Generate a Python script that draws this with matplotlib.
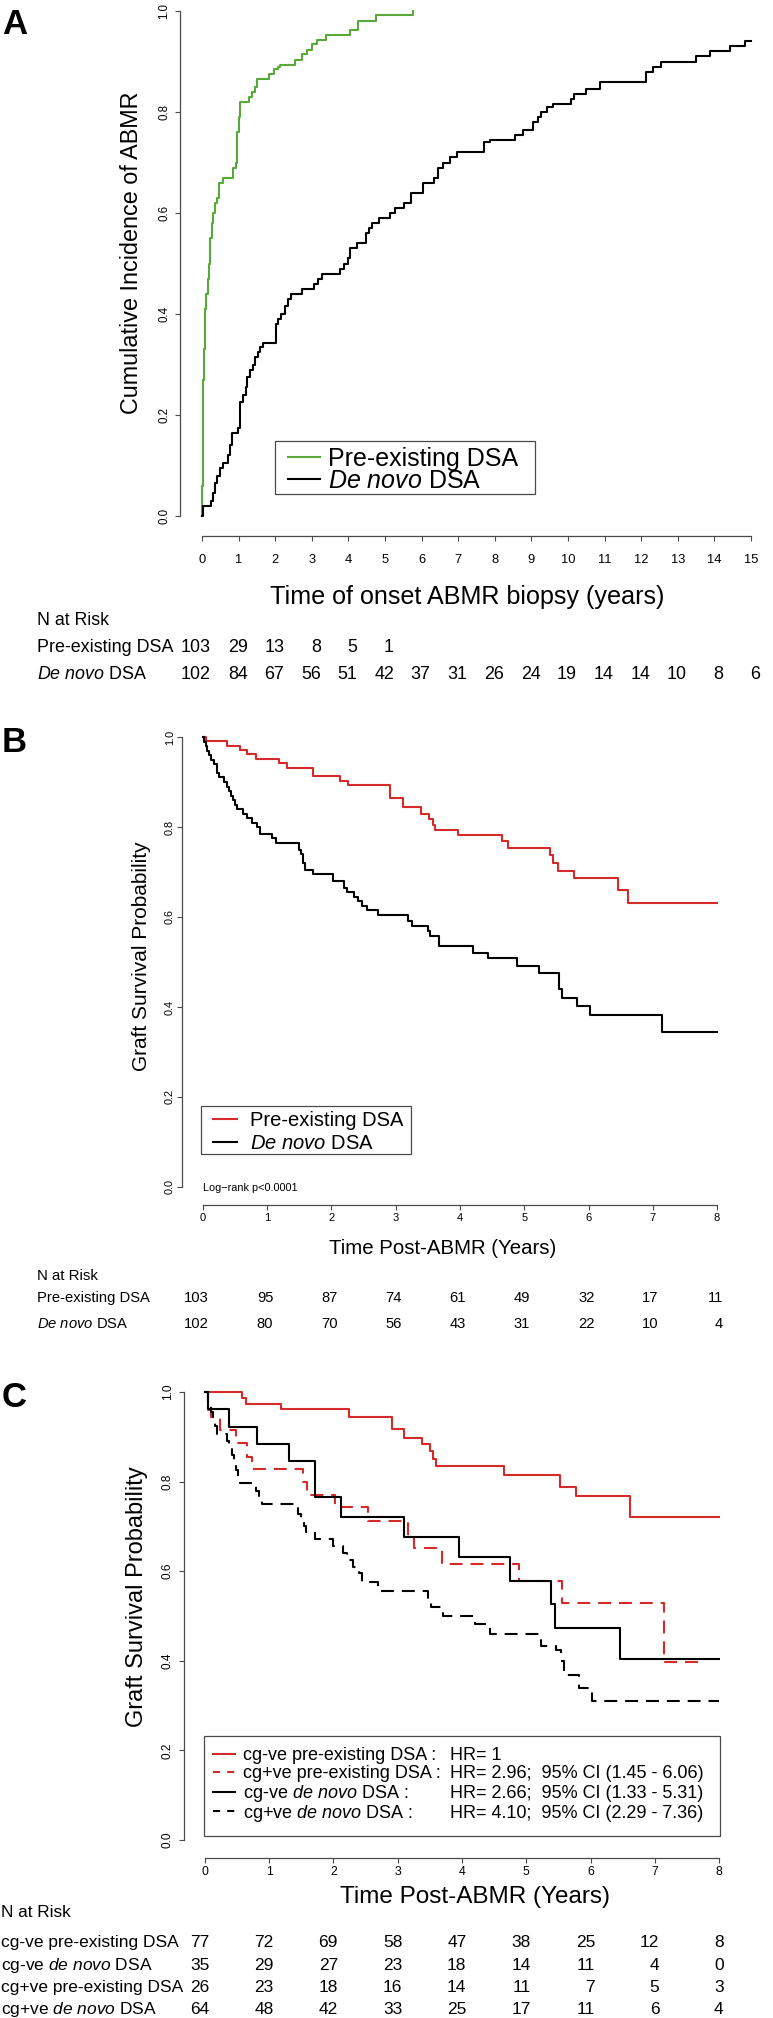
import numpy as np
import matplotlib
matplotlib.use("Agg")
import matplotlib.pyplot as plt
from matplotlib import transforms
from matplotlib.lines import Line2D
from matplotlib.patches import Rectangle

W, H = 773, 2018

# ---------------- data ----------------
# Panel A: cumulative incidence of ABMR
A_PRE_T = [0.0, 0.01, 0.02, 0.03, 0.04, 0.05, 0.07, 0.09, 0.12, 0.16, 0.19, 0.22, 0.27,
           0.31, 0.35, 0.40, 0.47, 0.57, 0.85, 0.92, 0.97, 1.00, 1.03, 1.28, 1.38, 1.45,
           1.51, 1.82, 1.96, 2.07, 2.14, 2.54, 2.73, 2.86, 3.01, 3.14, 3.38, 4.05, 4.26,
           4.76, 5.77]
A_PRE_V = [0.0, 0.06, 0.13, 0.20, 0.27, 0.33, 0.38, 0.41, 0.44, 0.47, 0.50, 0.55, 0.58,
           0.60, 0.62, 0.63, 0.66, 0.67, 0.69, 0.70, 0.76, 0.79, 0.82, 0.83, 0.84, 0.85,
           0.865, 0.875, 0.885, 0.89, 0.894, 0.903, 0.914, 0.923, 0.934, 0.942, 0.953,
           0.962, 0.981, 0.992, 1.0]
A_DN_T = [0, 0.04, 0.24, 0.30, 0.36, 0.42, 0.50, 0.57, 0.70, 0.77, 0.81, 0.99, 1.05, 1.12,
          1.19, 1.24, 1.32, 1.39, 1.46, 1.53, 1.59, 1.66, 2.03, 2.09, 2.16, 2.27, 2.34,
          2.43, 2.73, 3.07, 3.18, 3.27, 3.78, 3.88, 3.99, 4.05, 4.24, 4.49, 4.55, 4.64,
          4.84, 5.14, 5.27, 5.51, 5.72, 6.05, 6.35, 6.46, 6.59, 6.78, 6.96, 7.70, 7.86,
          8.55, 8.76, 9.05, 9.19, 9.26, 9.42, 9.59, 10.07, 10.16, 10.50, 10.88, 12.12,
          12.32, 12.53, 13.49, 13.89, 14.43, 14.84]
A_DN_V = [0, 0.019, 0.03, 0.045, 0.065, 0.08, 0.095, 0.105, 0.12, 0.14, 0.165, 0.175,
          0.225, 0.24, 0.255, 0.275, 0.29, 0.30, 0.315, 0.325, 0.335, 0.343, 0.38, 0.39,
          0.40, 0.415, 0.43, 0.44, 0.45, 0.46, 0.47, 0.48, 0.49, 0.50, 0.51, 0.53, 0.54,
          0.56, 0.57, 0.58, 0.59, 0.60, 0.61, 0.62, 0.64, 0.66, 0.67, 0.69, 0.70, 0.71,
          0.72, 0.74, 0.745, 0.755, 0.765, 0.78, 0.79, 0.80, 0.81, 0.815, 0.825, 0.835,
          0.845, 0.86, 0.88, 0.89, 0.90, 0.91, 0.92, 0.93, 0.94]
A_DN_END = 15.0
A_RISK_PRE = [103, 29, 13, 8, 5, 1]
A_RISK_DN = [102, 84, 67, 56, 51, 42, 37, 31, 26, 24, 19, 14, 14, 10, 8, 6]

# Panel B: graft survival
B_PRE_T = [0, 0.04, 0.37, 0.58, 0.69, 0.82, 1.19, 1.31, 1.72, 2.13, 2.25, 2.91, 3.12,
           3.40, 3.51, 3.58, 3.61, 3.97, 4.66, 4.75, 5.40, 5.44, 5.52, 5.77, 6.46, 6.62]
B_PRE_V = [1.0, 0.991, 0.981, 0.971, 0.962, 0.951, 0.942, 0.932, 0.913, 0.903, 0.893,
           0.865, 0.844, 0.830, 0.818, 0.805, 0.794, 0.782, 0.768, 0.753, 0.737, 0.719,
           0.703, 0.687, 0.660, 0.632]
B_DN_T = [0, 0.02, 0.05, 0.07, 0.10, 0.12, 0.17, 0.22, 0.25, 0.33, 0.37, 0.40, 0.44, 0.47,
          0.50, 0.53, 0.62, 0.69, 0.76, 0.84, 0.88, 1.07, 1.14, 1.49, 1.52, 1.55, 1.59,
          1.72, 2.02, 2.19, 2.24, 2.35, 2.42, 2.48, 2.55, 2.73, 3.19, 3.25, 3.50, 3.53,
          3.67, 4.20, 4.43, 4.89, 5.23, 5.54, 5.58, 5.82, 6.02, 7.14]
B_DN_V = [1.0, 0.99, 0.98, 0.97, 0.96, 0.95, 0.94, 0.92, 0.911, 0.90, 0.89, 0.88, 0.87,
          0.86, 0.85, 0.84, 0.83, 0.82, 0.81, 0.80, 0.785, 0.775, 0.765, 0.75, 0.74, 0.72,
          0.705, 0.695, 0.68, 0.665, 0.655, 0.645, 0.635, 0.625, 0.615, 0.604, 0.591,
          0.581, 0.569, 0.558, 0.535, 0.521, 0.508, 0.491, 0.475, 0.44, 0.42, 0.402,
          0.383, 0.345]
B_END = 8.0
B_RISK_PRE = [103, 95, 87, 74, 61, 49, 32, 17, 11]
B_RISK_DN = [102, 80, 70, 56, 43, 31, 22, 10, 4]

# Panel C: graft survival by cg status
C_NEG_PRE_T = [0, 0.58, 0.645, 1.18, 2.24, 2.91, 3.10, 3.37, 3.50, 3.55, 3.60, 4.66, 5.52,
               5.77, 6.62]
C_NEG_PRE_V = [1.0, 0.987, 0.973, 0.961, 0.945, 0.917, 0.898, 0.883, 0.869, 0.851, 0.835,
               0.815, 0.789, 0.767, 0.721]
C_POS_PRE_T = [0, 0.05, 0.09, 0.23, 0.48, 0.66, 0.73, 1.52, 1.59, 2.02, 2.54, 3.16, 3.26,
               3.69, 4.88, 5.56, 7.15]
C_POS_PRE_V = [1.0, 0.959, 0.944, 0.916, 0.886, 0.854, 0.828, 0.799, 0.771, 0.743, 0.713,
               0.679, 0.652, 0.617, 0.578, 0.528, 0.397]
C_POS_PRE_END = 7.67
C_NEG_DN_T = [0, 0.04, 0.38, 0.81, 1.31, 1.72, 2.12, 3.10, 3.96, 4.75, 5.39, 5.44, 6.46]
C_NEG_DN_V = [1.0, 0.961, 0.922, 0.884, 0.846, 0.765, 0.72, 0.676, 0.631, 0.578, 0.526,
              0.473, 0.405]
C_POS_DN_T = [0, 0.05, 0.09, 0.13, 0.16, 0.19, 0.34, 0.38, 0.42, 0.45, 0.49, 0.52, 0.54,
              0.80, 0.84, 0.88, 1.45, 1.50, 1.54, 1.57, 1.71, 1.99, 2.15, 2.21, 2.31, 2.39,
              2.44, 2.70, 3.47, 3.52, 3.70, 4.20, 4.44, 5.23, 5.46, 5.54, 5.59, 5.82, 6.02]
C_POS_DN_V = [1.0, 0.97, 0.955, 0.94, 0.925, 0.907, 0.89, 0.875, 0.86, 0.84, 0.825, 0.81,
              0.797, 0.78, 0.765, 0.749, 0.728, 0.715, 0.701, 0.687, 0.672, 0.657, 0.64,
              0.625, 0.61, 0.596, 0.575, 0.556, 0.535, 0.519, 0.501, 0.482, 0.46, 0.433,
              0.424, 0.40, 0.368, 0.339, 0.31]
C_END = 8.0
C_RISK_NEG_PRE = [77, 72, 69, 58, 47, 38, 25, 12, 8]
C_RISK_NEG_DN = [35, 29, 27, 23, 18, 14, 11, 4, 0]
C_RISK_POS_PRE = [26, 23, 18, 16, 14, 11, 7, 5, 3]
C_RISK_POS_DN = [64, 48, 42, 33, 25, 17, 11, 6, 4]

C_LEGEND_LABELS = ["cg-ve pre-existing DSA :", "cg+ve pre-existing DSA :",
                   r"cg-ve $\mathit{de\ novo}$ DSA :", r"cg+ve $\mathit{de\ novo}$ DSA :"]
C_LEGEND_HR = ["HR= 1", "HR= 2.96;  95% CI (1.45 - 6.06)",
               "HR= 2.66;  95% CI (1.33 - 5.31)", "HR= 4.10;  95% CI (2.29 - 7.36)"]

# ---------------- style ----------------
plt.rcParams['font.family'] = 'Liberation Sans'
plt.rcParams['mathtext.fontset'] = 'custom'
plt.rcParams['mathtext.rm'] = 'Liberation Sans'
plt.rcParams['mathtext.it'] = 'Liberation Sans:italic'
plt.rcParams['mathtext.bf'] = 'Liberation Sans:bold'

AXIS_GREY = '#4a4a4a'
GREEN = '#58a83a'
RED = '#d42a2a'
LW = 1.5
DASH = (0, (6.2, 3.8))
DASH_KEY = (0, (3.4, 3.4))
DN_LABEL = r"$\mathit{De\ novo}$ DSA"

fig = plt.figure(figsize=(W / 100, H / 100), dpi=100)


def fx(x):
    return x / W


def fy(y):
    return 1 - y / H


def put_text(x, yc, s, size, ha='left', **kw):
    # place text so that its cap height is centred on pixel row yc
    base = yc + 0.36 * size * 100 / 72
    return fig.text(fx(x), fy(base), s, fontsize=size, ha=ha, va='baseline', **kw)


def add_panel(left, right, top, bottom, xmax, xsize, xpad, ysize, ypad):
    ax = fig.add_axes([fx(left), fy(bottom), (right - left) / W, (bottom - top) / H])
    pad = 0.04 * xmax
    ax.set_xlim(-pad, xmax + pad)
    ax.set_ylim(-0.04, 1.04)
    ax.patch.set_alpha(0)
    for s in ('top', 'right'):
        ax.spines[s].set_visible(False)
    ax.spines['left'].set_bounds(0, 1)
    ax.spines['bottom'].set_bounds(0, xmax)
    for s in ('left', 'bottom'):
        ax.spines[s].set_color(AXIS_GREY)
        ax.spines[s].set_linewidth(0.9)
    ax.set_xticks(range(0, int(xmax) + 1))
    yt = np.arange(0, 1.01, 0.2)
    ax.set_yticks(yt)
    ax.set_yticklabels([f"{v:.1f}" for v in yt])
    ax.tick_params(color=AXIS_GREY, length=3.6, width=0.8)
    ax.tick_params(axis='x', labelsize=xsize, pad=xpad)
    ax.tick_params(axis='y', labelsize=ysize, pad=ypad, labelrotation=90)
    for lbl in ax.get_yticklabels():
        lbl.set_va('center')
    return ax


def draw_legend(box, rows, size, line_x, text_x):
    l, t, r, b = box
    fig.add_artist(Rectangle((fx(l), fy(b)), (r - l) / W, (b - t) / H,
                             transform=fig.transFigure, fill=False,
                             ec=AXIS_GREY, lw=0.9))
    for y, color, ls, label in rows:
        fig.add_artist(Line2D([fx(line_x[0]), fx(line_x[1])], [fy(y), fy(y)],
                              transform=fig.transFigure, color=color, lw=LW, ls=ls))
        put_text(text_x, y, label, size)


def risk_table(ax, label_x, rows, size, dx_px):
    trans = transforms.blended_transform_factory(ax.transData, fig.transFigure) + \
        transforms.ScaledTranslation(dx_px / fig.dpi, 0, fig.dpi_scale_trans)
    for label, counts, y in rows:
        put_text(label_x, y, label, size)
        base = fy(y + 0.36 * size * 100 / 72)
        for yr, n in enumerate(counts):
            ax.text(yr, base, str(n), transform=trans, ha='right', va='baseline',
                    fontsize=size)


def km(t, v, end=None):
    t, v = list(t), list(v)
    if end is not None:
        t.append(end)
        v.append(v[-1])
    return t, v


PANEL_FONT = ['Liberation Sans Narrow', 'Liberation Sans']

# ---------------- Panel A ----------------
axA = add_panel(180.0, 773.0, -9.2, 536.2, 15, 9.3, 9.5, 8.3, 3.6)
axA.step(*km(A_PRE_T, A_PRE_V), where='post', color=GREEN, lw=LW)
axA.step(*km(A_DN_T, A_DN_V, A_DN_END), where='post', color='black', lw=LW)
fig.text(fx(2), fy(34), "A", fontsize=25, fontweight='bold', family=PANEL_FONT)
fig.text(fx(132), fy(253), "Cumulative Incidence of ABMR", fontsize=16.8,
         rotation=90, ha='center', va='center')
put_text(467.5, 595, "Time of onset ABMR biopsy (years)", 18.1, ha='center')
draw_legend((275, 441, 535, 494),
            [(457, GREEN, '-', "Pre-existing DSA"), (479, 'black', '-', DN_LABEL)],
            18, (288, 320), 328)
put_text(37, 619, "N at Risk", 12.8)
risk_table(axA, 37, [("Pre-existing DSA", A_RISK_PRE, 646),
                     (DN_LABEL, A_RISK_DN, 673)], 12.9, 9)

# ---------------- Panel B ----------------
axB = add_panel(182.4, 737.6, 719.0, 1205.0, 8, 8, 2.5, 7.8, 1.7)
axB.step(*km(B_PRE_T, B_PRE_V, B_END), where='post', color=RED, lw=LW)
axB.step(*km(B_DN_T, B_DN_V, B_END), where='post', color='black', lw=LW)
fig.text(fx(2), fy(752), "B", fontsize=25, fontweight='bold', family=PANEL_FONT)
fig.text(fx(141.5), fy(956), "Graft Survival Probability", fontsize=15,
         rotation=90, ha='center', va='center')
put_text(203, 1187, "Log\u2212rank p<0.0001", 7.8)
put_text(443, 1247, "Time Post-ABMR (Years)", 14.7, ha='center')
draw_legend((200.5, 1106, 411, 1154),
            [(1119, RED, '-', "Pre-existing DSA"), (1142, 'black', '-', DN_LABEL)],
            14.5, (213, 237), 249.5)
put_text(37, 1275, "N at Risk", 10.8)
risk_table(axB, 37, [("Pre-existing DSA", B_RISK_PRE, 1297),
                     (DN_LABEL, B_RISK_DN, 1323)], 10.6, 6)

# ---------------- Panel C ----------------
axC = add_panel(184.4, 739.6, 1374.1, 1857.9, 8, 8.8, 2.2, 8.5, 3.9)
axC.step(*km(C_NEG_PRE_T, C_NEG_PRE_V, C_END), where='post', color=RED, lw=LW)
axC.step(*km(C_POS_PRE_T, C_POS_PRE_V, C_POS_PRE_END), where='post', color=RED, lw=LW,
         ls=DASH)
axC.step(*km(C_NEG_DN_T, C_NEG_DN_V, C_END), where='post', color='black', lw=LW)
axC.step(*km(C_POS_DN_T, C_POS_DN_V, C_END), where='post', color='black', lw=LW, ls=DASH)
fig.text(fx(2), fy(1407), "C", fontsize=25, fontweight='bold', family=PANEL_FONT)
fig.text(fx(137), fy(1597), "Graft Survival Probability", fontsize=17,
         rotation=90, ha='center', va='center')
put_text(475, 1894, "Time Post-ABMR (Years)", 17.5, ha='center')

c_rows_y = [1754, 1772, 1792, 1811]
c_styles = [(RED, '-'), (RED, DASH_KEY), ('black', '-'), ('black', DASH_KEY)]
draw_legend((204, 1736, 720, 1836),
            [(y, c, ls, lab) for y, (c, ls), lab in zip(c_rows_y, c_styles, C_LEGEND_LABELS)],
            13, (213, 235), 243)
for y, hr in zip(c_rows_y, C_LEGEND_HR):
    put_text(450, y, hr, 13)

put_text(1, 1911, "N at Risk", 12.4)
risk_table(axC, 1, [("cg-ve pre-existing DSA", C_RISK_NEG_PRE, 1941),
                    (r"cg-ve $\mathit{de\ novo}$ DSA", C_RISK_NEG_DN, 1964),
                    ("cg+ve pre-existing DSA", C_RISK_POS_PRE, 1986),
                    (r"cg+ve $\mathit{de\ novo}$ DSA", C_RISK_POS_DN, 2008)], 12.5, 4.5)

fig.savefig("out.png", dpi=100)
